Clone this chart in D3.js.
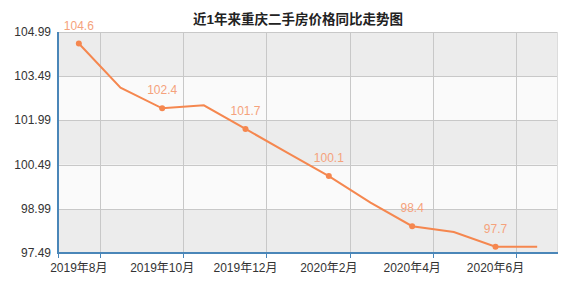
<!DOCTYPE html>
<html>
<head>
<meta charset="utf-8">
<script src="https://cdn.jsdelivr.net/npm/d3@7"></script>
<style>
  html, body { margin: 0; padding: 0; background: #fff; }
  svg text { font-family: "Liberation Sans", "Noto Sans CJK SC", sans-serif; }
</style>
</head>
<body>
<div id="chart"></div>
<script>
// Chart data
const months = ['2019年8月', '2019年9月', '2019年10月', '2019年11月', '2019年12月', '2020年1月',
                '2020年2月', '2020年3月', '2020年4月', '2020年5月', '2020年6月', '2020年7月'];
const priceIndex = [104.6, 103.1, 102.4, 102.5, 101.7, 100.9, 100.1, 99.2, 98.4, 98.2, 97.7, 97.7];
const yTicks = [97.49, 98.99, 100.49, 101.99, 103.49, 104.99];
const title = '近1年来重庆二手房价格同比走势图';

const W = 578, H = 286;
const margin = {top: 32, right: 20, bottom: 33, left: 58};
const width = W - margin.left - margin.right;
const height = H - margin.top - margin.bottom;

const svg = d3.select('#chart').append('svg')
    .attr('width', W)
    .attr('height', H);

const g = svg.append('g')
    .attr('transform', `translate(${margin.left}, ${margin.top})`);

const x = d3.scaleBand().domain(months).range([0, width]).padding(0);
const y = d3.scaleLinear().domain([yTicks[0], yTicks[yTicks.length - 1]]).range([height, 0]);

// Alternating background bands
for (let i = 0; i < yTicks.length - 1; i++) {
    g.append('rect')
        .attr('x', 0)
        .attr('y', y(yTicks[i + 1]))
        .attr('width', width)
        .attr('height', y(yTicks[i]) - y(yTicks[i + 1]))
        .attr('fill', (yTicks.length - 2 - i) % 2 === 0 ? '#ececec' : '#fafafa');
}

// Horizontal grid lines
g.selectAll('line.hgrid')
    .data(yTicks)
    .enter().append('line')
    .attr('class', 'hgrid')
    .attr('x1', 0).attr('x2', width)
    .attr('y1', d => Math.round(y(d)) + 0.5).attr('y2', d => Math.round(y(d)) + 0.5)
    .attr('stroke', '#c8c8c8');

// Vertical grid lines at band boundaries after each labelled month
const shownIdx = months.map((m, i) => i).filter(i => i % 2 === 0);
const boundaries = shownIdx.map(i => x(months[i]) + x.bandwidth());
g.selectAll('line.vgrid')
    .data(boundaries)
    .enter().append('line')
    .attr('class', 'vgrid')
    .attr('x1', d => Math.round(d) + 0.5).attr('x2', d => Math.round(d) + 0.5)
    .attr('y1', 0).attr('y2', height)
    .attr('stroke', '#c8c8c8');

// right border
g.append('line')
    .attr('x1', width - 0.5).attr('x2', width - 0.5)
    .attr('y1', 0).attr('y2', height)
    .attr('stroke', '#dcdcdc');

// Axes
g.append('line')
    .attr('x1', 0).attr('x2', width)
    .attr('y1', height).attr('y2', height)
    .attr('stroke', '#4a86b8').attr('stroke-width', 2);
g.append('line')
    .attr('x1', 0).attr('x2', 0)
    .attr('y1', 0).attr('y2', height + 1)
    .attr('stroke', '#4a86b8').attr('stroke-width', 2);

// x ticks
g.selectAll('line.xtick')
    .data([0].concat(boundaries))
    .enter().append('line')
    .attr('class', 'xtick')
    .attr('x1', d => Math.round(d) + 0.5).attr('x2', d => Math.round(d) + 0.5)
    .attr('y1', height).attr('y2', height + 5)
    .attr('stroke', '#4a86b8');

// x labels
g.selectAll('text.xlabel')
    .data(shownIdx)
    .enter().append('text')
    .attr('class', 'xlabel')
    .attr('x', i => x(months[i]) + x.bandwidth() / 2)
    .attr('y', height + 19)
    .attr('text-anchor', 'middle')
    .attr('font-size', '12px')
    .attr('fill', '#333')
    .text(i => months[i]);

// y labels
g.selectAll('text.ylabel')
    .data(yTicks)
    .enter().append('text')
    .attr('class', 'ylabel')
    .attr('x', -7)
    .attr('y', d => y(d) + 4)
    .attr('text-anchor', 'end')
    .attr('font-size', '12px')
    .attr('fill', '#333')
    .text(d => d.toFixed(2));

// Line
const line = d3.line()
    .x((d, i) => x(months[i]) + x.bandwidth() / 2)
    .y(d => y(d));

g.append('path')
    .datum(priceIndex)
    .attr('d', line)
    .attr('fill', 'none')
    .attr('stroke', '#f5874f')
    .attr('stroke-width', 2);

// Points and labels on every other month
const marked = priceIndex.map((v, i) => ({v, i})).filter(d => d.i % 2 === 0);
g.selectAll('circle.pt')
    .data(marked)
    .enter().append('circle')
    .attr('class', 'pt')
    .attr('cx', d => x(months[d.i]) + x.bandwidth() / 2)
    .attr('cy', d => y(d.v))
    .attr('r', 3)
    .attr('fill', '#f5874f');

g.selectAll('text.vlabel')
    .data(marked)
    .enter().append('text')
    .attr('class', 'vlabel')
    .attr('x', d => x(months[d.i]) + x.bandwidth() / 2)
    .attr('y', d => y(d.v) - 14)
    .attr('text-anchor', 'middle')
    .attr('font-size', '12px')
    .attr('fill', '#f5a27c')
    .text(d => d.v.toFixed(1));

// Title
svg.append('text')
    .attr('x', 298)
    .attr('y', 24)
    .attr('text-anchor', 'middle')
    .attr('font-size', '13.5px')
    .attr('font-weight', 'bold')
    .attr('fill', '#222')
    .text(title);
</script>
</body>
</html>
